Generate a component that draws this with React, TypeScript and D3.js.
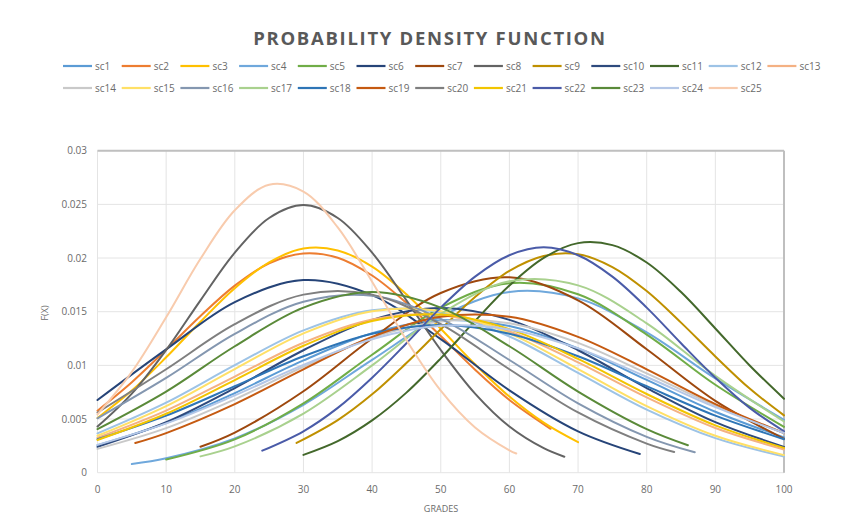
import React from "react";
import * as d3 from "d3";

type Pt = [number, number];

const seriesNames = [
  "sc1","sc2","sc3","sc4","sc5","sc6","sc7","sc8","sc9","sc10","sc11","sc12","sc13",
  "sc14","sc15","sc16","sc17","sc18","sc19","sc20","sc21","sc22","sc23","sc24","sc25",
];

const seriesColors = [
  "#5B9BD5","#ED7D31","#FFC000","#6FA8DC","#70AD47","#264478","#9E480E","#636363","#BF9000",
  "#2E4A7D","#43682B","#9DC3E6","#F4B183","#C9C9C9","#FFE066","#8497B0","#A9D18E","#2E75B6",
  "#C55A11","#7F7F7F","#F2C500","#4A5BA8","#5A8A39","#B4C7E7","#F8CBAD",
];

const sc1: Pt[] = [[0,0.00255],[10,0.00463],[20,0.00742],[30,0.01046],[40,0.01299],[50,0.01421],[60,0.01367],[70,0.01158],[80,0.00864],[90,0.00568],[100,0.00329]];
const sc2: Pt[] = [[0,0.00578],[5,0.00843],[10,0.01146],[15,0.0146],[20,0.01743],[25,0.01951],[30,0.02043],[35,0.02003],[40,0.01837],[45,0.01581],[50,0.01273],[55,0.0096],[60,0.00678],[66,0.00409]];
const sc3: Pt[] = [[0,0.0051],[5,0.00765],[10,0.01075],[15,0.01407],[20,0.01719],[25,0.0196],[30,0.02088],[35,0.02071],[40,0.0192],[45,0.01662],[50,0.01341],[55,0.0101],[60,0.00709],[65,0.00466],[70,0.00284]];
const sc4: Pt[] = [[5,0.00081],[10,0.00134],[20,0.00319],[30,0.00633],[40,0.01051],[50,0.01456],[60,0.01684],[70,0.01624],[80,0.01307],[90,0.00878],[100,0.00493]];
const sc5: Pt[] = [[10,0.00123],[20,0.00311],[30,0.00646],[40,0.01099],[50,0.01537],[60,0.01766],[70,0.01662],[80,0.01287],[90,0.00819],[100,0.00427]];
const sc6: Pt[] = [[0,0.00677],[10,0.01149],[20,0.01589],[30,0.01795],[40,0.01655],[50,0.01245],[60,0.00767],[70,0.00385],[79,0.00174]];
const sc7: Pt[] = [[15,0.00242],[20,0.00374],[30,0.00759],[40,0.0125],[50,0.01674],[60,0.0182],[70,0.01606],[80,0.0115],[90,0.00669],[100,0.00316]];
const sc8: Pt[] = [[0,0.0043],[5,0.00737],[10,0.01143],[15,0.01606],[20,0.0205],[25,0.02373],[30,0.02493],[35,0.02373],[40,0.0205],[45,0.01606],[50,0.01143],[55,0.00737],[60,0.0043],[65,0.00228],[68,0.00149]];
const sc9: Pt[] = [[29,0.00277],[35,0.0049],[40,0.0073],[45,0.01022],[50,0.01336],[55,0.01637],[60,0.0188],[65,0.02019],[70,0.02035],[75,0.01916],[80,0.01692],[85,0.01398],[90,0.01083],[95,0.00784],[100,0.00534]];
const sc10: Pt[] = [[0,0.00241],[10,0.00471],[20,0.00789],[30,0.01141],[40,0.01424],[50,0.01534],[60,0.01424],[70,0.01141],[80,0.00789],[90,0.00471],[100,0.00241]];
const sc11: Pt[] = [[30,0.00166],[35,0.00294],[40,0.00487],[45,0.00746],[50,0.01065],[55,0.01414],[60,0.01744],[65,0.02002],[70,0.02139],[75,0.0212],[80,0.01958],[85,0.01683],[90,0.01344],[95,0.00999],[100,0.00689]];
const sc12: Pt[] = [[0,0.00367],[10,0.00653],[20,0.01002],[30,0.01326],[40,0.01514],[50,0.01492],[60,0.01269],[70,0.0093],[80,0.00588],[90,0.00322],[100,0.00151]];
const sc13: Pt[] = [[0,0.00326],[10,0.00579],[20,0.00896],[30,0.01211],[40,0.01427],[50,0.01468],[60,0.01316],[70,0.01028],[80,0.00701],[90,0.00416],[100,0.00216]];
const sc14: Pt[] = [[0,0.00222],[10,0.00415],[20,0.00683],[30,0.00987],[40,0.01258],[50,0.01409],[60,0.01392],[70,0.0121],[80,0.00926],[90,0.00624],[100,0.0037]];
const sc15: Pt[] = [[0,0.00344],[10,0.00621],[20,0.00966],[30,0.01298],[40,0.01505],[50,0.01505],[60,0.01298],[70,0.00966],[80,0.00621],[90,0.00344],[100,0.00164]];
const sc16: Pt[] = [[0,0.00507],[10,0.00883],[20,0.01294],[30,0.01592],[40,0.01649],[50,0.01434],[60,0.0105],[70,0.00646],[80,0.00334],[87,0.0019]];
const sc17: Pt[] = [[15,0.00152],[20,0.00245],[30,0.00551],[40,0.01],[50,0.0148],[60,0.01783],[70,0.01745],[80,0.01392],[90,0.00902],[100,0.00477]];
const sc18: Pt[] = [[0,0.00312],[10,0.00532],[20,0.00806],[30,0.01085],[40,0.01295],[50,0.01376],[60,0.01295],[70,0.01085],[80,0.00806],[90,0.00532],[100,0.00312]];
const sc19: Pt[] = [[5.5,0.00276],[10,0.00369],[20,0.00639],[30,0.00963],[40,0.01265],[50,0.01452],[60,0.01452],[70,0.01265],[80,0.00963],[90,0.00639],[100,0.00369]];
const sc20: Pt[] = [[0,0.00561],[10,0.00964],[20,0.01384],[30,0.01659],[40,0.01659],[50,0.01384],[60,0.00964],[70,0.00561],[80,0.00271],[84,0.00193]];
const sc21: Pt[] = [[0,0.00305],[10,0.00549],[20,0.00863],[30,0.01183],[40,0.01414],[50,0.01474],[60,0.01338],[70,0.0106],[80,0.00733],[90,0.00441],[100,0.00231]];
const sc22: Pt[] = [[24,0.00205],[30,0.00386],[35,0.00604],[40,0.00885],[45,0.01206],[50,0.01538],[55,0.01827],[60,0.02026],[65,0.021],[70,0.02026],[75,0.01827],[80,0.01538],[85,0.01206],[90,0.00885],[95,0.00604],[100,0.00386]];
const sc23: Pt[] = [[0,0.00406],[10,0.00756],[20,0.01178],[30,0.01538],[40,0.01683],[50,0.01538],[60,0.01178],[70,0.00756],[80,0.00406],[86,0.00256]];
const sc24: Pt[] = [[0,0.00259],[10,0.00459],[20,0.0072],[30,0.01004],[40,0.01243],[50,0.01368],[60,0.01335],[70,0.01158],[80,0.00892],[90,0.00611],[100,0.0037]];
const sc25: Pt[] = [[0,0.00543],[5,0.00939],[10,0.01448],[15,0.01993],[20,0.02445],[25,0.02683],[30,0.02619],[35,0.02285],[40,0.01779],[45,0.01236],[50,0.00765],[55,0.00422],[60,0.00209],[61,0.00179]];

const seriesData: Pt[][] = [sc1,sc2,sc3,sc4,sc5,sc6,sc7,sc8,sc9,sc10,sc11,sc12,sc13,sc14,sc15,sc16,sc17,sc18,sc19,sc20,sc21,sc22,sc23,sc24,sc25];

const xTicks = [0, 10, 20, 30, 40, 50, 60, 70, 80, 90, 100];
const yTicks = [0, 0.005, 0.01, 0.015, 0.02, 0.025, 0.03];
const yTickLabels = ["0", "0.005", "0.01", "0.015", "0.02", "0.025", "0.03"];

const W = 857;
const H = 523;
const left = 97.5, right = 784, top = 150.7, bottom = 472.7;
const font = "'Open Sans', 'DejaVu Sans', sans-serif";
const titleColor = "#595959";
const textColor = "#6B6B6B";

export default function App() {
  const x = d3.scaleLinear().domain([0, 100]).range([left, right]);
  const y = d3.scaleLinear().domain([0, 0.03]).range([bottom, top]);
  const line = d3
    .line<Pt>()
    .x((d) => x(d[0]))
    .y((d) => y(d[1]))
    .curve(d3.curveCatmullRom.alpha(0.5));

  const legendX0 = 63;
  const legendStep = 58.7;
  const legendRowY = [66, 88];

  return (
    <svg
      width={W}
      height={H}
      style={{ position: "absolute", left: 0, top: 0, background: "#fff" }}
      fontFamily={font}
    >
      <rect x={0} y={0} width={W} height={H} fill="#fff" />
      <text
        x={430}
        y={45}
        textAnchor="middle"
        fontSize={18.5}
        fontWeight="bold"
        letterSpacing={1.7}
        fill={titleColor}
      >
        PROBABILITY DENSITY FUNCTION
      </text>

      {seriesNames.map((name, i) => {
        const row = i < 13 ? 0 : 1;
        const col = i < 13 ? i : i - 13;
        const lx = legendX0 + col * legendStep;
        const ly = legendRowY[row];
        return (
          <g key={name}>
            <line x1={lx} x2={lx + 29} y1={ly} y2={ly} stroke={seriesColors[i]} strokeWidth={2.2} />
            <text x={lx + 32} y={ly + 3.5} fontSize={10} fill={textColor}>
              {name}
            </text>
          </g>
        );
      })}

      {xTicks.map((t) => (
        <line key={"gx" + t} x1={x(t)} x2={x(t)} y1={top} y2={bottom} stroke="#E4E4E4" strokeWidth={1} />
      ))}
      {yTicks.map((t) => (
        <line key={"gy" + t} x1={left} x2={right} y1={y(t)} y2={y(t)} stroke="#E4E4E4" strokeWidth={1} />
      ))}
      <line x1={left} x2={right} y1={top} y2={top} stroke="#BFBFBF" strokeWidth={2} />
      <line x1={right} x2={right} y1={top} y2={bottom} stroke="#BFBFBF" strokeWidth={2} />

      {yTicks.map((t, i) => (
        <text key={"yl" + t} x={87} y={y(t) + 3.5} textAnchor="end" fontSize={10} fill={textColor}>
          {yTickLabels[i]}
        </text>
      ))}
      {xTicks.map((t) => (
        <text key={"xl" + t} x={x(t)} y={493} textAnchor="middle" fontSize={10} fill={textColor}>
          {t}
        </text>
      ))}
      <text x={441} y={512} textAnchor="middle" fontSize={9} fill={textColor}>
        GRADES
      </text>
      <text
        transform={`translate(48, 313) rotate(-90)`}
        textAnchor="middle"
        fontSize={9}
        fill={textColor}
      >
        F(X)
      </text>

      {seriesData.map((data, i) => (
        <path
          key={seriesNames[i]}
          d={line(data) || ""}
          fill="none"
          stroke={seriesColors[i]}
          strokeWidth={2}
          strokeLinecap="round"
        />
      ))}
    </svg>
  );
}
